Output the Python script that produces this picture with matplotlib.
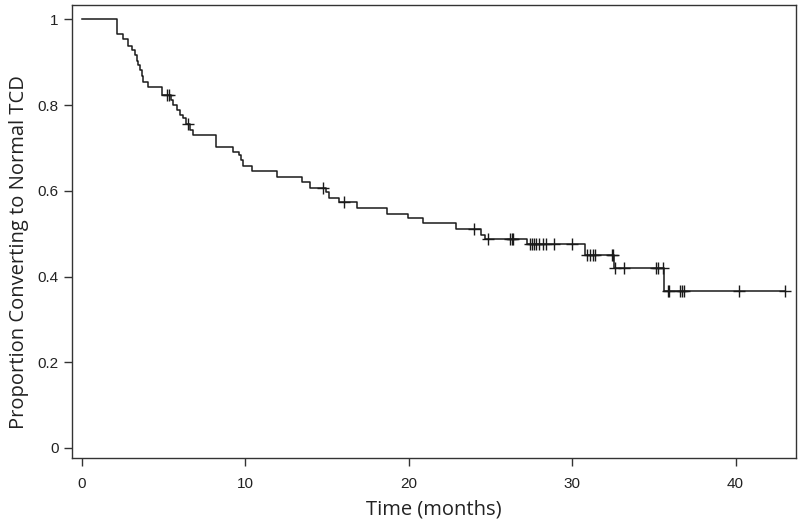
import numpy as np
import matplotlib.pyplot as plt

# Kaplan-Meier estimate: event times and survival after each event
event_t = [2.16, 2.53, 2.84, 3.10, 3.25, 3.35, 3.45, 3.55, 3.66, 3.75, 4.06, 4.88,
           5.43, 5.59, 5.80, 6.00, 6.20, 6.37, 6.61, 6.82, 8.19, 9.27, 9.63, 9.74,
           9.84, 10.39, 11.96, 13.45, 13.96, 14.94, 15.14, 15.76, 16.86, 18.70,
           19.98, 20.90, 22.90, 24.45, 24.70, 27.23, 30.76, 32.54, 35.64]
surv = [0.967, 0.955, 0.937, 0.928, 0.916, 0.904, 0.893, 0.881, 0.869, 0.854, 0.842, 0.823,
        0.811, 0.800, 0.788, 0.776, 0.769, 0.757, 0.741, 0.730, 0.702, 0.691, 0.683, 0.673,
        0.657, 0.646, 0.633, 0.621, 0.607, 0.598, 0.584, 0.574, 0.559, 0.547,
        0.537, 0.524, 0.510, 0.498, 0.487, 0.477, 0.450, 0.421, 0.367]

# censored observations
censor_t = [5.19, 5.35, 6.51, 14.74, 16.04, 24.0, 24.88, 26.2, 26.3, 26.4,
            27.43, 27.54, 27.64, 27.8, 28.0, 28.2, 28.4, 28.9, 29.99,
            30.94, 31.1, 31.25, 31.41, 32.45, 32.5, 32.64, 33.15,
            35.15, 35.23, 35.58, 35.84, 35.95, 36.58, 36.72, 36.82, 40.19, 43.05]

x_ticks = [0, 10, 20, 30, 40]
y_ticks = [0, 0.2, 0.4, 0.6, 0.8, 1]
y_tick_labels = ['0', '0.2', '0.4', '0.6', '0.8', '1']

# build the step curve starting at S=1 and running to the last follow-up
t_steps = np.concatenate([[0], event_t, [max(censor_t)]])
s_steps = np.concatenate([[1], surv, [surv[-1]]])

# survival level at each censoring time
idx = np.searchsorted(event_t, censor_t, side='right')
s_all = np.concatenate([[1], surv])
censor_s = s_all[idx]

fig = plt.figure(figsize=(8, 5.25), dpi=100)
ax = fig.add_axes([0.09, 0.128, 0.905, 0.862])

line_col = '#1a1a1a'
ax.step(t_steps, s_steps, where='post', color=line_col, lw=1.1)
ax.plot(censor_t, censor_s, '+', color=line_col, ms=8, mew=1.0)

ax.set_xlim(-0.6, 43.7)
ax.set_ylim(-0.023, 1.033)
ax.set_xticks(x_ticks)
ax.set_yticks(y_ticks)
ax.set_yticklabels(y_tick_labels)

for sp in ax.spines.values():
    sp.set_color('#333333')
    sp.set_linewidth(1.0)
ax.tick_params(direction='out', length=6, width=1, color='#333333',
               labelsize=11, labelcolor='#222222')
ax.tick_params(axis='x', pad=8)
for lab in ax.get_xticklabels() + ax.get_yticklabels():
    lab.set_family('Liberation Sans')

ax.set_xlabel('Time (months)', fontsize=14.5, family='Open Sans', color='#222222', labelpad=6)
ax.set_ylabel('Proportion Converting to Normal TCD', fontsize=14.5, family='Open Sans',
              color='#222222', labelpad=8)
ax.yaxis.set_label_coords(-0.06, 0.455)

fig.savefig('out.png', dpi=100)
